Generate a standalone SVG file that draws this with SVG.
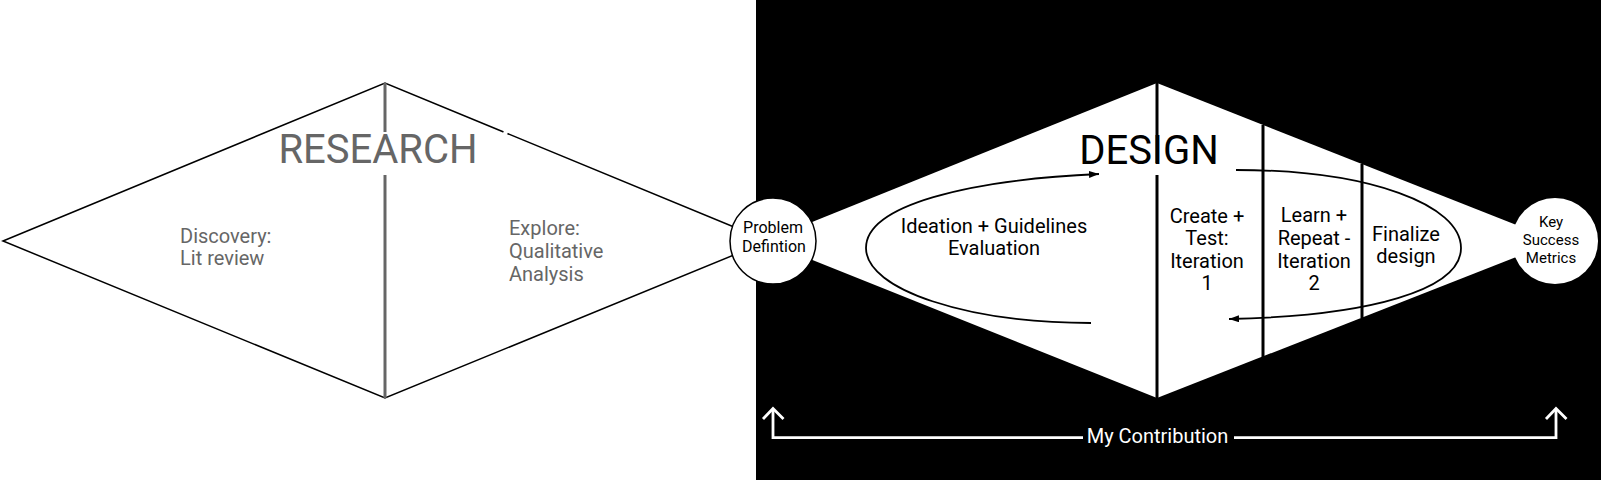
<svg xmlns="http://www.w3.org/2000/svg" width="1601" height="480" viewBox="0 0 1601 480">
<style>
text{font-family:Roboto,"Liberation Sans",sans-serif;text-anchor:middle}
.gray{fill:#666}
.big{font-size:40px}
.mid{font-size:20px}
.edge{stroke:#000;stroke-width:1.5;fill:#fff}
.gline{stroke:#666;stroke-width:3}
.bline{stroke:#000;stroke-width:3}
.loop{stroke:#000;stroke-width:1.8;fill:none;marker-end:url(#ah)}
.wl{stroke:#fff;stroke-width:2.8;fill:none}
</style>
<defs>
<marker id="ah" markerUnits="userSpaceOnUse" markerWidth="11" markerHeight="8" refX="10" refY="3.5" orient="auto">
<path d="M0,0 L10,3.5 L0,7 z" fill="#000"/>
</marker>
</defs>
<rect x="0" y="0" width="1601" height="480" fill="#fff"/>
<rect x="756" y="0" width="845" height="480" fill="#000"/>

<g id="research">
<polygon class="edge" points="3,241 385,83 768,241 385,398"/>
<line x1="503.5" y1="131.9" x2="507.5" y2="133.5" stroke="#fff" stroke-width="3"/>
<line class="gline" x1="385" y1="83" x2="385" y2="132"/>
<line class="gline" x1="385" y1="175" x2="385" y2="398"/>
<text class="gray big" x="378" y="162.5">RESEARCH</text>
</g>
<g id="discovery">
<text class="gray mid" x="180" y="243" style="text-anchor:start">Discovery:</text>
<text class="gray mid" x="180" y="265" style="text-anchor:start">Lit review</text>
</g>
<g id="explore">
<text class="gray mid" x="509" y="235" style="text-anchor:start">Explore:</text>
<text class="gray mid" x="509" y="258" style="text-anchor:start">Qualitative</text>
<text class="gray mid" x="509" y="281" style="text-anchor:start">Analysis</text>
</g>

<g id="design">
<polygon fill="#fff" points="765,241 1157,83 1557,241 1157,398"/>
<line class="bline" x1="1157" y1="83" x2="1157" y2="163"/>
<line class="bline" x1="1157" y1="175" x2="1157" y2="398"/>
<line class="bline" x1="1263" y1="125" x2="1263" y2="357"/>
<line class="bline" x1="1362" y1="164" x2="1362" y2="318"/>
<text class="big" x="1149" y="163.5">DESIGN</text>
</g>
<g id="ideation">
<text class="mid" x="994" y="233">Ideation + Guidelines</text>
<text class="mid" x="994" y="255">Evaluation</text>
</g>
<g id="create">
<text class="mid" x="1207" y="222.5">Create +</text>
<text class="mid" x="1207" y="245">Test:</text>
<text class="mid" x="1207" y="268">Iteration</text>
<text class="mid" x="1207" y="290">1</text>
</g>
<g id="learn">
<text class="mid" x="1314" y="222">Learn +</text>
<text class="mid" x="1314" y="245">Repeat -</text>
<text class="mid" x="1314" y="268">Iteration</text>
<text class="mid" x="1314" y="290">2</text>
</g>
<g id="finalize">
<text class="mid" x="1406" y="241">Finalize</text>
<text class="mid" x="1406" y="263">design</text>
</g>

<g id="problem">
<circle cx="773" cy="241" r="43" fill="#fff" stroke="#000" stroke-width="1.5"/>
<text x="773" y="233" style="font-size:16px">Problem</text>
<text x="774" y="252" style="font-size:16px">Defintion</text>
</g>
<g id="metrics">
<circle cx="1555" cy="241" r="43" fill="#fff"/>
<text x="1551" y="227" style="font-size:15px">Key</text>
<text x="1551" y="245" style="font-size:15px">Success</text>
<text x="1551" y="263" style="font-size:15px">Metrics</text>
</g>

<g id="connectors">
<path class="loop" d="M1091,323 C968,323 866,290 866,248 C866,205 968,180 1099,174"/>
<path class="loop" d="M1236,170 C1370,170 1461,205 1461,248 C1461,290 1370,316 1229,319"/>
<polyline class="wl" points="773,409 773,437.7 1083,437.7"/>
<polyline class="wl" points="1234,437.7 1556,437.7 1556,409"/>
<polyline class="wl" points="763,419 773,408.5 783.5,419"/>
<polyline class="wl" points="1546,419 1556,408.5 1566.5,419"/>
</g>
<g id="contribution">
<text class="mid" x="1157.5" y="443" fill="#fff">My Contribution</text>
</g>
</svg>
